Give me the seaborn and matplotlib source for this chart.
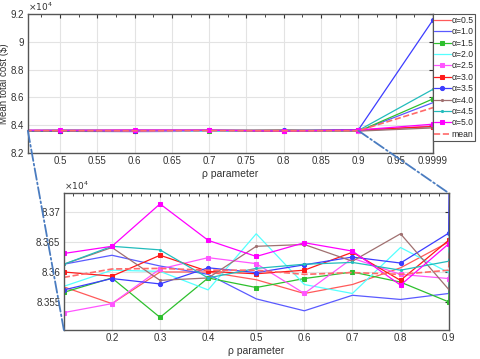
import numpy as np
import pandas as pd
import seaborn as sns
import matplotlib.pyplot as plt
from matplotlib.patches import ConnectionPatch
from matplotlib.ticker import FuncFormatter, FixedLocator, AutoMinorLocator

### data (mean total cost, $)
rho = [0.1, 0.2, 0.3, 0.4, 0.5, 0.6, 0.7, 0.8, 0.9, 0.9999]

cost_a05 = [83575, 83547, 83600, 83600, 83587, 83564, 83579, 83607, 83650, 83850]
cost_a10 = [83613, 83628, 83610, 83596, 83555, 83535, 83561, 83554, 83564, 85620]
cost_a15 = [83566, 83590, 83524, 83590, 83574, 83589, 83600, 83583, 83550, 85890]
cost_a20 = [83576, 83603, 83601, 83570, 83664, 83579, 83564, 83641, 83599, 83850]
cost_a25 = [83532, 83547, 83605, 83624, 83614, 83564, 83623, 83596, 83589, 83950]
cost_a30 = [83600, 83593, 83628, 83601, 83597, 83603, 83633, 83586, 83653, 83900]
cost_a35 = [83570, 83589, 83580, 83607, 83599, 83612, 83625, 83615, 83665, 91570]
cost_a40 = [83613, 83641, 83586, 83590, 83643, 83646, 83618, 83664, 83571, 83800]
cost_a45 = [83613, 83643, 83637, 83590, 83606, 83613, 83616, 83603, 83618, 86580]
cost_a50 = [83631, 83643, 83714, 83653, 83626, 83649, 83635, 83578, 83647, 84070]
cost_mean = [83591, 83605, 83606, 83603, 83603, 83596, 83599, 83596, 83603, 85259]

labels = ['α=0.5', 'α=1.0', 'α=1.5', 'α=2.0', 'α=2.5',
          'α=3.0', 'α=3.5', 'α=4.0', 'α=4.5', 'α=5.0', 'mean']
series = [cost_a05, cost_a10, cost_a15, cost_a20, cost_a25,
          cost_a30, cost_a35, cost_a40, cost_a45, cost_a50, cost_mean]
colors = ['#ff5a5a', '#5a5aff', '#2ec02e', '#55ffff', '#ff55ff',
          '#ff1a1a', '#3d3dff', '#a07070', '#22bcbc', '#ff00ff', '#ff6a6a']
markers = [None, None, 's', None, 's', 's', 'o', '.', '.', 's', None]

sns.set_style('whitegrid')
plt.rcParams['font.family'] = ['Liberation Sans', 'DejaVu Sans']

fig = plt.figure(figsize=(4.8, 3.59), dpi=100)
ax_top = fig.add_axes([0.058, 0.574, 0.844, 0.387])
ax_bot = fig.add_axes([0.133, 0.081, 0.802, 0.381])

for ax in (ax_top, ax_bot):
    for i in range(len(series)):
        ls = '--' if labels[i] == 'mean' else '-'
        lw = 1.2 if labels[i] == 'mean' else 0.9
        sns.lineplot(x=rho, y=series[i], ax=ax, color=colors[i],
                     marker=markers[i], markersize=3 if markers[i] else 0,
                     markeredgecolor=colors[i], linewidth=lw, linestyle=ls,
                     label=labels[i], legend=(ax is ax_top), errorbar=None)

# common matlab-ish styling
for ax in (ax_top, ax_bot):
    ax.grid(True, color='#e3e3e3', linewidth=0.8)
    ax.tick_params(direction='in', top=True, right=True, length=3,
                   labelsize=7, colors='#333333', pad=2.5)
    ax.tick_params(which='minor', direction='in', top=True, right=True, length=2)
    for sp in ax.spines.values():
        sp.set_color('#555555')
        sp.set_linewidth(1.0)
    ax.yaxis.set_major_formatter(FuncFormatter(lambda v, _: f'{v / 1e4:g}'))
    ax.text(0.0, 1.005, r'$\times10^{4}$', transform=ax.transAxes,
            ha='left', va='bottom', fontsize=6.5, color='#333333')
    ax.set_xlabel('ρ parameter', fontsize=7.5, color='#333333', labelpad=2)

# top: full view
ax_top.set_xlim(0.457, 0.9999)
ax_top.set_ylim(82000, 92000)
ax_top.xaxis.set_major_locator(FixedLocator([0.5, 0.55, 0.6, 0.65, 0.7, 0.75,
                                             0.8, 0.85, 0.9, 0.95, 0.9999]))
ax_top.xaxis.set_major_formatter(FuncFormatter(lambda v, _: f'{v:g}'))
ax_top.xaxis.set_minor_locator(AutoMinorLocator(2))
ax_top.set_yticks([82000, 84000, 86000, 88000, 90000, 92000])
ax_top.set_ylabel('Mean total cost ($)', fontsize=7, color='#333333', labelpad=1)

leg = ax_top.legend(loc='upper left', bbox_to_anchor=(0.999, 1.0),
                    borderaxespad=0.0, fontsize=6.2, frameon=True,
                    fancybox=False, edgecolor='#555555', framealpha=1,
                    handlelength=1.9, handletextpad=0.1, labelspacing=0.28,
                    borderpad=0.2)
leg.get_frame().set_linewidth(0.8)

# bottom: zoomed view
ax_bot.set_xlim(0.1, 0.9004)
ax_bot.set_ylim(83503, 83732)
ax_bot.set_xticks([0.2, 0.3, 0.4, 0.5, 0.6, 0.7, 0.8, 0.9])
ax_bot.xaxis.set_major_formatter(FuncFormatter(lambda v, _: f'{v:g}'))
ax_bot.xaxis.set_minor_locator(AutoMinorLocator(5))
ax_bot.set_yticks([83550, 83600, 83650, 83700])
ax_bot.set_ylabel('')

# zoom connectors
for xa, xb in [((0.457, 83600), (0.0, 0.0)), ((0.9, 83600), (1.0, 1.0))]:
    con = ConnectionPatch(xyA=xa, coordsA=ax_top.transData,
                          xyB=xb, coordsB=ax_bot.transAxes,
                          color='#4a7cc0', linestyle='-.', linewidth=1.3)
    fig.add_artist(con)

fig.savefig('out.png', dpi=100)
